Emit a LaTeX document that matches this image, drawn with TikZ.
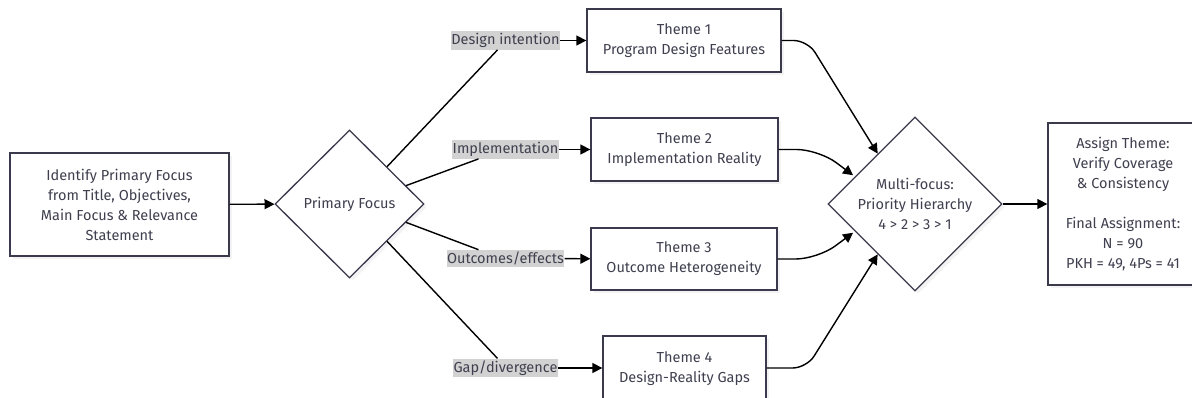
\documentclass[tikz,border=0pt]{standalone}
\usepackage{fontspec}
\setmainfont{Fira Sans}
\usetikzlibrary{shapes.geometric,arrows.meta,shadows}
\definecolor{txt}{HTML}{3F3F4F}
\definecolor{bd}{HTML}{3A3A4C}
\definecolor{lbl}{HTML}{D2D2D2}
\definecolor{shd}{HTML}{E8E8E8}
\begin{document}
\begin{tikzpicture}[x=1pt,y=-1pt,
  every node/.style={font=\fontsize{14.5}{20}\selectfont, text=txt},
  shdw/.style={drop shadow={shadow xshift=3pt,shadow yshift=-3pt,fill=shd}},
  box/.style={draw=bd, line width=1.3pt, fill=white, rectangle, align=center, inner sep=0pt, shdw},
  dia/.style={draw=bd, line width=1.3pt, fill=white, diamond, align=center, inner sep=0pt, shdw},
  lab/.style={fill=lbl, inner xsep=0.5pt, inner ysep=2pt},
  conn/.style={draw=black, line width=1.4pt},
  arr/.style={conn, -{Triangle[length=10pt,width=10pt]}}]
\useasboundingbox (0,0) rectangle (1192,398);

\node[box, minimum width=219, minimum height=103] (id) at (119.5,204.5)
  {Identify Primary Focus\\from Title, Objectives,\\Main Focus \& Relevance\\Statement};
\node[dia, minimum width=149, minimum height=148] (pf) at (349.5,204) {Primary Focus};

\node[box, minimum width=194, minimum height=63] (t1) at (684,40.5) {Theme 1\\Program Design Features};
\node[box, minimum width=187, minimum height=63] (t2) at (684.5,149.5) {Theme 2\\Implementation Reality};
\node[box, minimum width=186, minimum height=62] (t3) at (684,259) {Theme 3\\Outcome Heterogeneity};
\node[box, minimum width=163, minimum height=66] (t4) at (684.5,369) {Theme 4\\Design-Reality Gaps};

\node[lab] (di) at (505.5,40.5) {Design intention};
\node[lab] (im) at (505.5,149.5) {Implementation};
\node[lab] (oe) at (505.5,258.5) {Outcomes/effects};
\node[lab] (gd) at (505.5,368) {Gap/divergence};

\node[dia, minimum width=174, minimum height=174] (mf) at (915,204)
  {Multi-focus:\\Priority Hierarchy\\4 > 2 > 3 > 1};
\node[box, minimum width=150, minimum height=162] (fa) at (1123,204)
  {Assign Theme:\\Verify Coverage\\\& Consistency\\[20pt]Final Assignment:\\N = 90\\PKH = 49, 4Ps = 41};

\draw[arr] (id) -- (pf);
\draw[conn] (pf.north east) -- ([xshift=-8pt]di.south);
\draw[conn] (pf.18) -- ([xshift=-27pt]im.south);
\draw[conn] (pf.-18) -- ([xshift=-27pt]oe.north);
\draw[conn] (pf.south east) -- ([xshift=-8pt]gd.north);
\draw[arr] (di) -- (t1);
\draw[arr] (im) -- (t2);
\draw[arr] (oe) -- (t3);
\draw[arr] (gd) -- (gd -| t4.west);

\draw[arr, rounded corners=14pt] (t1.east) -- ([xshift=26pt]t1.east) -- ([shift={(-2pt,-2pt)}]mf.124);
\draw[arr, rounded corners=22pt] (t2.east) -- ([xshift=40pt]t2.east) -- ([xshift=-3pt]mf.154);
\draw[arr, rounded corners=22pt] (t3.east) -- ([xshift=40pt]t3.east) -- ([xshift=-3pt]mf.206);
\draw[arr, rounded corners=14pt] (gd -| t4.east) -- ++(40,0) -- ([shift={(-2pt,2pt)}]mf.236);
\draw[arr] (mf) -- (fa);
\end{tikzpicture}
\end{document}
